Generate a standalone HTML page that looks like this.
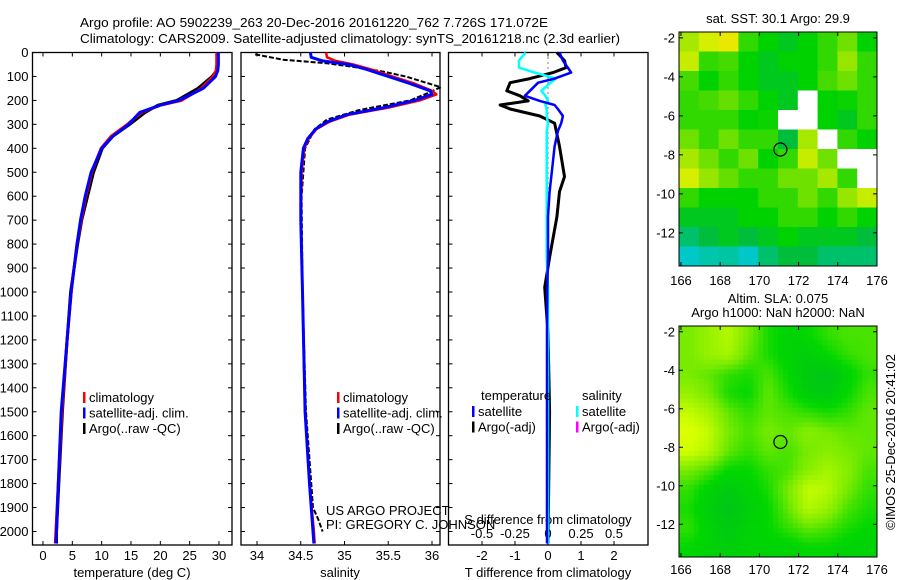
<!DOCTYPE html>
<html><head><meta charset="utf-8"><style>
html,body{margin:0;padding:0;background:#fff;}
svg{display:block;font-family:"Liberation Sans",sans-serif;}
text{font-size:13px;fill:#000;}
</style></head><body>
<svg id="root" width="900" height="580" viewBox="0 0 900 580" xmlns="http://www.w3.org/2000/svg">
<text x="80" y="27" font-size="14" textLength="468" lengthAdjust="spacingAndGlyphs">Argo profile: AO 5902239_263 20-Dec-2016 20161220_762 7.726S 171.072E</text>
<text x="80" y="43" font-size="14" textLength="540" lengthAdjust="spacingAndGlyphs">Climatology: CARS2009. Satellite-adjusted climatology: synTS_20161218.nc (2.3d earlier)</text>
<g id="g1"></g>
<g id="g2"></g>
<g id="g3"></g>
<g id="g4"></g>
<g id="g5"></g>
<text transform="translate(895,442) rotate(-90)" text-anchor="middle" font-size="13">©IMOS 25-Dec-2016 20:41:02</text>
</svg>
<script>
// ---------- data ----------
const depthT = [0,50,75,100,150,200,220,250,300,350,400,500,600,700,800,900,1000,1200,1500,1800,2000,2050];
const tempClim = [29.6,29.6,29.5,29.0,27.0,23.6,20.0,16.8,14.4,11.6,9.9,8.3,7.3,6.5,5.8,5.3,4.8,4.1,3.2,2.6,2.2,2.1];
const tempSat  = [29.9,29.9,29.8,29.4,27.3,23.2,20.0,16.5,14.6,11.9,10.0,8.2,7.2,6.4,5.8,5.3,4.8,4.1,3.1,2.6,2.3,2.2];
const tempArgo = [29.8,29.8,29.6,28.8,26.4,22.8,19.6,17.4,14.8,11.9,10.1,8.6,7.6,6.6,5.9,5.3,4.7,4.1,3.3,2.7,2.3,2.3];
const depthS = [0,20,35,50,70,100,130,160,175,200,230,260,290,320,360,400,500,700,1000,1500,1800,2000,2050];
const salClim = [34.79,34.80,34.90,35.10,35.30,35.55,35.80,36.00,36.05,35.86,35.50,35.05,34.82,34.68,34.59,34.54,34.51,34.50,34.52,34.55,34.60,34.65,34.66];
const salSat  = [34.61,34.62,34.75,35.05,35.25,35.50,35.75,35.98,36.00,35.80,35.45,35.02,34.80,34.67,34.58,34.53,34.50,34.50,34.52,34.55,34.60,34.64,34.65];
const depthSA = [8,30,45,60,80,100,145,170,200,240,280,320,400,600,1000,1500,1900,1950,2000];
const salArgo = [33.98,34.30,34.80,35.10,35.45,35.70,36.10,35.95,35.75,35.17,34.80,34.66,34.55,34.51,34.52,34.56,34.64,34.70,34.75];
const depthD = [0,34,63,84,109,126,160,181,202,219,236,265,295,328,392,518,581,686,855,981,1170,1500,2050];
const tDiffArgo = [0.27,0.5,0.55,0.15,-0.55,-1.15,-1.25,-0.85,-0.6,-1.45,-1.15,-0.25,0.2,0.25,0.35,0.5,0.35,0.27,0.05,-0.1,0.0,0.05,0.0];
const tDiffSat  = [0.35,0.45,0.6,0.7,0.2,-0.3,-0.55,-0.7,-0.25,0.2,0.3,0.45,0.4,0.3,0.2,0.1,0.05,0.0,0.0,-0.02,-0.03,-0.03,-0.03];
const sDiffSat  = [-0.17,-0.22,-0.22,-0.1,0.06,0.02,-0.05,-0.02,0.0,-0.02,-0.01,-0.01,0.0,-0.01,-0.01,-0.01,-0.01,-0.01,-0.01,0.0,0.0,0.0,0.0];
const depthTicks = [0,100,200,300,400,500,600,700,800,900,1000,1100,1200,1300,1400,1500,1600,1700,1800,1900,2000];
const tempTicks = [0,5,10,15,20,25,30];
const salTicks = [34,34.5,35,35.5,36];
const salTickLabels = ["34","34.5","35","35.5","36"];
const tdTicks = [-2,-1,0,1,2];
const sdTicks = [-0.5,-0.25,0,0.25,0.5];
const sdTickLabels = ["-0.5","-0.25","0","0.25","0.5"];
const lonTicks = [166,168,170,172,174,176];
const latTicks = [-2,-4,-6,-8,-10,-12];
const argoLon = 171.072, argoLat = -7.726;
const sstGrid = [
[.72,.78,.82,.6,.55,.5,.55,.6,.66,.55],
[.76,.6,.62,.55,.5,.55,.55,.6,.7,.6],
[.62,.55,.6,.55,.5,.5,.55,.62,.66,.6],
[.6,.62,.65,.6,.55,.5,null,.55,.56,.6],
[.6,.6,.6,.55,.56,null,null,.55,.5,.6],
[.66,.6,.66,.6,.6,.45,.72,null,.6,.55],
[.72,.66,.6,.66,.55,.6,.76,.66,null,null],
[.78,.7,.65,.6,.6,.66,.66,.72,.6,null],
[.6,.55,.55,.55,.6,.6,.66,.6,.7,.76],
[.5,.5,.5,.55,.55,.6,.6,.55,.6,.55],
[.4,.45,.5,.45,.5,.55,.5,.5,.5,.45],
[.3,.33,.34,.3,.4,.45,.45,.4,.4,.4]];
const slaGrid = [
[.6,.7,.8,.6,.4,.3,.35,.45,.5,.5],
[.6,.7,.75,.55,.4,.3,.25,.35,.45,.5],
[.6,.55,.45,.4,.5,.35,.2,.15,.3,.45],
[.7,.6,.4,.35,.55,.4,.25,.2,.35,.5],
[.85,.75,.55,.45,.55,.5,.45,.4,.45,.55],
[.95,.85,.6,.5,.6,.55,.65,.6,.55,.55],
[.9,.8,.55,.45,.55,.5,.6,.65,.6,.55],
[.6,.5,.35,.35,.45,.5,.65,.75,.65,.5],
[.45,.3,.2,.3,.4,.6,.85,.8,.6,.45],
[.4,.25,.15,.25,.35,.55,.8,.7,.5,.4],
[.45,.3,.2,.3,.35,.45,.55,.5,.4,.35],
[.35,.3,.25,.3,.3,.3,.35,.35,.3,.3]];

// ---------- helpers ----------
const NS="http://www.w3.org/2000/svg";
function mk(parent,tag,attrs,txt){const e=document.createElementNS(NS,tag);for(const k in attrs)e.setAttribute(k,attrs[k]);if(txt!==undefined)e.textContent=txt;parent.appendChild(e);return e;}
const yTop=52.5, yBot=545, yScale=0.2395;
const yD = d => yTop + d*yScale;
function frame(g,x0,x1){const r=mk(g,'rect',{x:x0,y:yTop,width:x1-x0,height:yBot-yTop,fill:'none',stroke:'#000','stroke-width':1.3});

}
function depthAxis(g,x0,x1,labels){
  depthTicks.forEach(d=>{const y=yD(d);
    mk(g,'line',{x1:x0,x2:x0+4,y1:y,y2:y,stroke:'#000'});
    mk(g,'line',{x1:x1,x2:x1-4,y1:y,y2:y,stroke:'#000'});
    if(labels){const t=mk(g,'text',{x:x0-4,y:y+4.5,'text-anchor':'end'},String(d));
      
      }
  });
}
function xTicks(g,vals,labs,fx,y,top){vals.forEach((v,i)=>{const x=fx(v);
  mk(g,'line',{x1:x,x2:x,y1:yBot,y2:yBot-4,stroke:'#000'});
  if(top) mk(g,'line',{x1:x,x2:x,y1:yTop,y2:yTop+4,stroke:'#000'});
  if(labs){const t=mk(g,'text',{x:x,y:y,'text-anchor':'middle'},labs[i]);
  
  }});}
function line(g,xs,ds,fx,color,w,name,dash){
  const pts=xs.map((v,i)=>fx(v).toFixed(1)+','+yD(ds[i]).toFixed(1)).join(' ');
  const p=mk(g,'polyline',{points:pts,fill:'none',stroke:color,'stroke-width':w,'stroke-linejoin':'round'});
  if(dash)p.setAttribute('stroke-dasharray',dash);
  
  
  return p;}
function legend(g,x,y,items){items.forEach((it,i)=>{
  mk(g,'rect',{x:x,y:y+i*15.5-10,width:2.5,height:11,fill:it[0]});
  const t=mk(g,'text',{x:x+6,y:y+i*15.5},it[1]);
  
  });}

// ---------- panel 1 ----------
const g1=document.getElementById('g1');
const fT=v=>43+v*(176/30);
frame(g1,32.5,232); depthAxis(g1,32.5,232,true);
xTicks(g1,tempTicks,tempTicks.map(String),fT,560,true);
line(g1,tempArgo,depthT,fT,'#000',3,'argo-temperature-line');
line(g1,tempClim,depthT,fT,'#f00',3,'climatology-temperature-line');
line(g1,tempSat,depthT,fT,'#00f',3,'satellite-temperature-line');
mk(g1,'text',{x:132,y:577,'text-anchor':'middle',},'temperature (deg C)');
legend(g1,83,402,[['#f00','climatology'],['#00f','satellite-adj. clim.'],['#000','Argo(..raw -QC)']]);

// ---------- panel 2 ----------
const g2=document.getElementById('g2');
const fS=v=>257+(v-34)*87.5;
frame(g2,241,440); depthAxis(g2,241,440,false);
xTicks(g2,salTicks,salTickLabels,fS,560,true);
line(g2,salArgo,depthSA,fS,'#000',2,'argo-salinity-line','5,2');
line(g2,salClim,depthS,fS,'#f00',2.5,'climatology-salinity-line');
line(g2,salSat,depthS,fS,'#00f',3,'satellite-salinity-line');
mk(g2,'text',{x:340,y:577,'text-anchor':'middle',},'salinity');
legend(g2,337,402,[['#f00','climatology'],['#00f','satellite-adj. clim.'],['#000','Argo(..raw -QC)']]);
mk(g2,'text',{x:326,y:515,},'US ARGO PROJECT');
mk(g2,'text',{x:326,y:529,},'PI: GREGORY C. JOHNSON');

// ---------- panel 3 ----------
const g3=document.getElementById('g3');
const fTD=v=>548+v*33;
const fSD=v=>548+v*132;
frame(g3,448.5,648);
depthTicks.forEach(d=>{mk(g3,'line',{x1:448.5,x2:452.5,y1:yD(d),y2:yD(d),stroke:'#000'});});
mk(g3,'line',{x1:548,x2:548,y1:yTop,y2:340,stroke:'#000','stroke-dasharray':'1,4',});
xTicks(g3,tdTicks,tdTicks.map(String),fTD,560,true);
sdTicks.forEach((v,i)=>{const t=mk(g3,'text',{x:fSD(v),y:538,'text-anchor':'middle'},sdTickLabels[i]);

});
mk(g3,'text',{x:548,y:524,'text-anchor':'middle',},'S difference from climatology');
mk(g3,'text',{x:548,y:577,'text-anchor':'middle',},'T difference from climatology');
line(g3,tDiffArgo,depthD,fTD,'#000',3,'argo-temperature-diff-line');
line(g3,sDiffSat,depthD,fSD,'#0ff',2.5,'satellite-salinity-diff-line');
line(g3,tDiffSat,depthD,fTD,'#00f',2.5,'satellite-temperature-diff-line');
mk(g3,'text',{x:481,y:400,},'temperature');
mk(g3,'text',{x:582,y:400,},'salinity');
legend(g3,472,416,[['#00f','satellite'],['#000','Argo(-adj)']]);
legend(g3,576,416,[['#0ff','satellite'],['#f0f','Argo(-adj)']]);

// ---------- maps ----------
function lerp(a,b,t){return a+(b-a)*t;}
function cmap(stops,v){
  for(let i=0;i<stops.length-1;i++){const a=stops[i],b=stops[i+1];
    if(v<=b[0]){const t=Math.max(0,(v-a[0])/(b[0]-a[0]));
      return 'rgb('+Math.round(lerp(a[1],b[1],t))+','+Math.round(lerp(a[2],b[2],t))+','+Math.round(lerp(a[3],b[3],t))+')';}}
  const l=stops[stops.length-1];return 'rgb('+l[1]+','+l[2]+','+l[3]+')';}
const sstStops=[[0,0,120,220],[0.3,0,200,200],[0.45,0,190,60],[0.55,0,210,0],[0.7,150,230,0],[0.8,230,240,0],[0.9,255,200,0],[1,255,150,0]];
const slaStops=[[0,0,185,40],[0.35,0,215,0],[0.6,120,235,0],[0.9,210,255,0],[1,230,255,0]];
function drawMap(g,x0,y0,x1,y1,grid,stops,smooth,labelY){
  const latTop=-1.7, latBot=-13.7, lon0=165.9, lon1=176.0;
  const fx=v=>x0+(v-lon0)/(lon1-lon0)*(x1-x0);
  const fy=v=>y0+(latTop-v)/(latTop-latBot)*(y1-y0);
  const R=grid.length, C=grid[0].length;
  const NR=48, NC=40;
  const cw=(x1-x0)/NC, ch=(y1-y0)/NR;
  for(let i=0;i<NR;i++){
    for(let j=0;j<NC;j++){
      let rr=(i+0.5)/NR*R, cc=(j+0.5)/NC*C;
      let val;
      if(smooth){
        rr=Math.min(R-1,Math.max(0,rr-0.5)); cc=Math.min(C-1,Math.max(0,cc-0.5));
        const r0=Math.floor(rr), c0=Math.floor(cc);
        const r1=Math.min(R-1,r0+1), c1=Math.min(C-1,c0+1);
        const tr=rr-r0, tc=cc-c0;
        val=lerp(lerp(grid[r0][c0],grid[r0][c1],tc),lerp(grid[r1][c0],grid[r1][c1],tc),tr);
      } else {
        val=grid[Math.min(R-1,Math.floor(rr))][Math.min(C-1,Math.floor(cc))];
      }
      const fillc=(val===null)?'#ffffff':cmap(stops,val);
      const cellEl=mk(g,'rect',{x:(x0+j*cw).toFixed(2),y:(y0+i*ch).toFixed(2),width:(cw+0.4).toFixed(2),height:(ch+0.4).toFixed(2),fill:fillc});
      
      
    }
  }
  const fr=mk(g,'rect',{x:x0,y:y0,width:x1-x0,height:y1-y0,fill:'none',stroke:'#000'});
  
  
  lonTicks.forEach(v=>{const xx=fx(v);
    mk(g,'line',{x1:xx,x2:xx,y1:y1,y2:y1-4,stroke:'#000'});
    mk(g,'line',{x1:xx,x2:xx,y1:y0,y2:y0+4,stroke:'#000'});
    const t=mk(g,'text',{x:xx,y:labelY,'text-anchor':'middle','font-size':'14'},String(v));
    
    });
  latTicks.forEach(v=>{const yy=fy(v);
    mk(g,'line',{x1:x0,x2:x0+4,y1:yy,y2:yy,stroke:'#000'});
    mk(g,'line',{x1:x1,x2:x1-4,y1:yy,y2:yy,stroke:'#000'});
    const t=mk(g,'text',{x:x0-4,y:yy+4.5,'text-anchor':'end'},String(v));
    
    });
  const circ=mk(g,'circle',{cx:fx(argoLon),cy:fy(argoLat),r:6.5,fill:'none',stroke:'#000','stroke-width':1.2});
  
  
}
const g4=document.getElementById('g4');
mk(g4,'text',{x:778,y:23,'text-anchor':'middle',},'sat. SST: 30.1  Argo: 29.9');
drawMap(g4,679,32,877,266,sstGrid,sstStops,false,285);
const g5=document.getElementById('g5');
mk(g5,'text',{x:778,y:303,'text-anchor':'middle',},'Altim. SLA: 0.075');
mk(g5,'text',{x:778,y:317,'text-anchor':'middle',},'Argo h1000: NaN h2000: NaN');
drawMap(g5,679,326,877,557,slaGrid,slaStops,true,574);
</script>
</body></html>
